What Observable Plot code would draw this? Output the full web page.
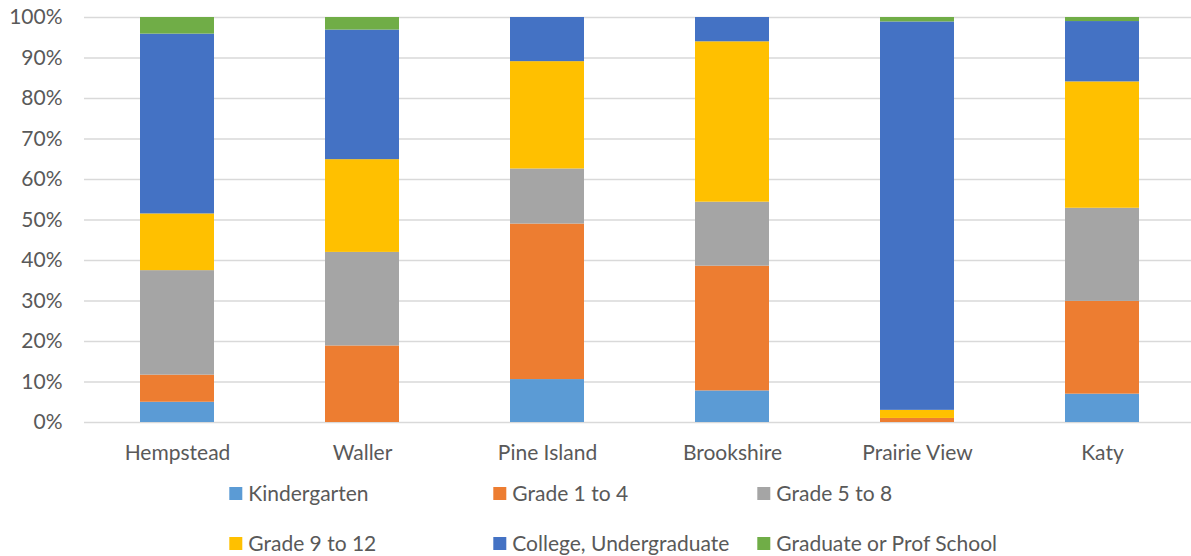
<!DOCTYPE html>
<html>
<head>
<meta charset="utf-8">
<script src="https://cdn.jsdelivr.net/npm/d3@7"></script>
<script src="https://cdn.jsdelivr.net/npm/@observablehq/plot@0.6"></script>
<style>
  html, body { margin: 0; padding: 0; background: #fff; }
  #chart { width: 1191px; overflow: hidden; }
  svg { display: block; }
</style>
</head>
<body>
<div id="chart"></div>
<script>
const categories = ["Hempstead", "Waller", "Pine Island", "Brookshire", "Prairie View", "Katy"];
const seriesNames = ["Kindergarten", "Grade 1 to 4", "Grade 5 to 8", "Grade 9 to 12", "College, Undergraduate", "Graduate or Prof School"];
const seriesColors = ["#5B9BD5", "#ED7D31", "#A5A5A5", "#FFC000", "#4472C4", "#70AD47"];

const kindergarten = [5.0, 0, 10.6, 7.8, 0, 7.0];
const grade1to4   = [6.7, 18.9, 38.4, 30.8, 1.0, 22.9];
const grade5to8   = [25.8, 23.1, 13.6, 15.8, 0, 23.0];
const grade9to12  = [14.0, 22.9, 26.5, 39.6, 2.0, 31.2];
const college     = [44.4, 32.0, 10.9, 6.0, 95.9, 14.9];
const graduate    = [4.1, 3.1, 0, 0, 1.1, 1.0];

const yTicks = [0, 10, 20, 30, 40, 50, 60, 70, 80, 90, 100];

const seriesValues = [kindergarten, grade1to4, grade5to8, grade9to12, college, graduate];
const data = [];
seriesNames.forEach((s, i) => {
  categories.forEach((c, j) => {
    data.push({category: c, series: s, value: seriesValues[i][j]});
  });
});

const textColor = "#595959";
const font = "Lato, 'Open Sans', sans-serif";

const chart = Plot.plot({
  width: 1191,
  height: 470,
  marginLeft: 84,
  marginRight: -4,
  marginTop: 17,
  marginBottom: 48,
  style: {fontFamily: font, fontSize: "21px", color: textColor, background: "white", overflow: "visible"},
  x: {domain: categories, paddingInner: 0.6, paddingOuter: 0.3, label: null, tickSize: 0, tickPadding: 23},
  y: {domain: [0, 100], ticks: yTicks, tickFormat: d => d + "%", label: null, tickSize: 0, tickPadding: 22},
  color: {domain: seriesNames, range: seriesColors},
  marks: [
    Plot.ruleY(yTicks, {stroke: "#d9d9d9", strokeWidth: 1.3}),
    Plot.barY(data, Plot.stackY({order: seriesNames}, {x: "category", y: "value", fill: "series"}))
  ]
});
document.getElementById("chart").appendChild(chart);

// Legend below the chart
const legendW = 1191, legendH = 86;
const legend = d3.create("svg").attr("width", legendW).attr("height", legendH)
  .style("font-family", font).style("font-size", "21px");
seriesNames.forEach((s, i) => {
  const col = i % 3, row = Math.floor(i / 3);
  const x0 = 229.3 + col * 264;
  const y0 = 17 + row * 50;
  legend.append("rect").attr("x", x0).attr("y", y0).attr("width", 13).attr("height", 13).attr("fill", seriesColors[i]);
  legend.append("text").attr("x", x0 + 19).attr("y", y0 + 13.7).attr("fill", textColor).text(s);
});
document.getElementById("chart").appendChild(legend.node());
</script>
</body>
</html>
